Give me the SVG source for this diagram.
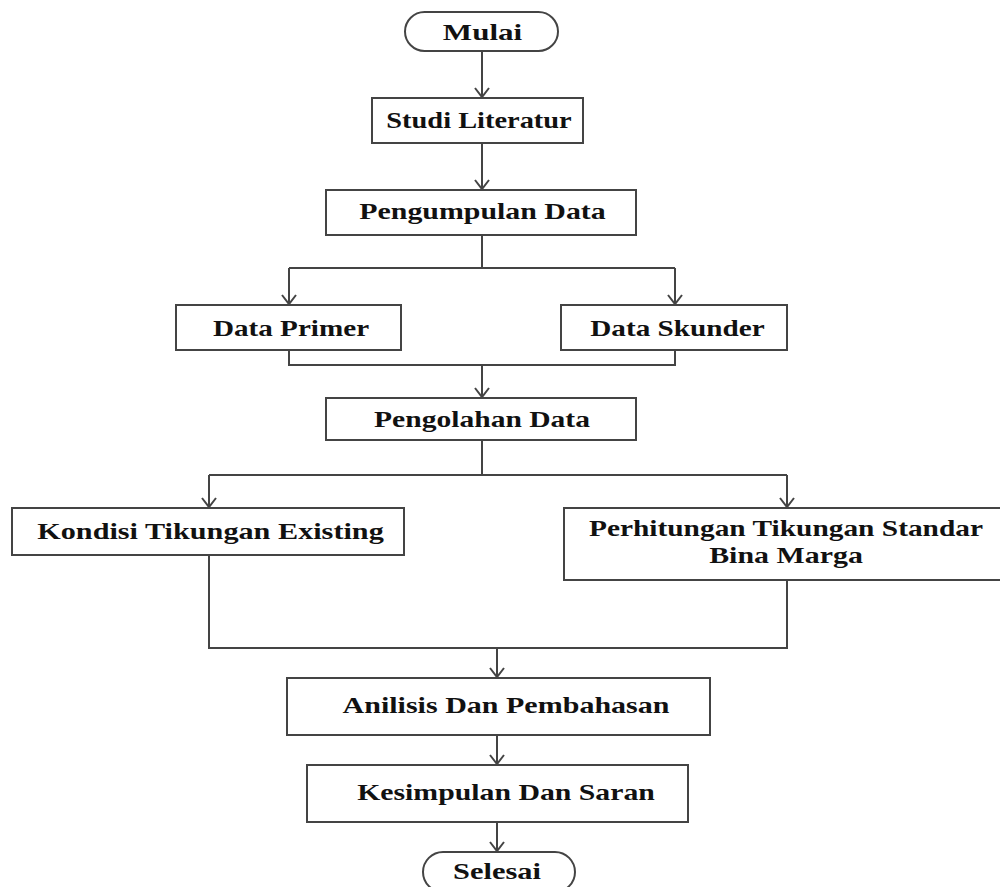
<svg xmlns="http://www.w3.org/2000/svg" width="1000" height="887" viewBox="0 0 1000 887">
<defs>
<style>
.box{fill:#fff;stroke:#444;stroke-width:2}
.t{font-family:"Liberation Serif","Times New Roman",serif;font-weight:bold;font-size:24px;fill:#111;text-anchor:middle}
.c{fill:none;stroke:#444;stroke-width:2}
</style>
<marker id="arr" viewBox="-10 -10 20 20" refX="0" refY="0" markerWidth="20" markerHeight="20" markerUnits="userSpaceOnUse" orient="auto">
<path d="M -9 -7 L 0 0 L -9 7" fill="none" stroke="#444" stroke-width="2"/>
</marker>
</defs>
<rect width="1000" height="887" fill="#fff"/>
<g id="connectors">
<path class="c" d="M482 51 V97" marker-end="url(#arr)"/>
<path class="c" d="M482 143 V189" marker-end="url(#arr)"/>
<path class="c" d="M482 235 V268"/>
<path class="c" d="M289 268 H675"/>
<path class="c" d="M289 268 V304" marker-end="url(#arr)"/>
<path class="c" d="M675 268 V304" marker-end="url(#arr)"/>
<path class="c" d="M289 350 V365 H675 V350"/>
<path class="c" d="M482 365 V397" marker-end="url(#arr)"/>
<path class="c" d="M482 440 V475"/>
<path class="c" d="M209 475 H787"/>
<path class="c" d="M209 475 V507" marker-end="url(#arr)"/>
<path class="c" d="M787 475 V507" marker-end="url(#arr)"/>
<path class="c" d="M209 555 V648 H787 V580"/>
<path class="c" d="M497 648 V677" marker-end="url(#arr)"/>
<path class="c" d="M497 735 V764" marker-end="url(#arr)"/>
<path class="c" d="M497 822 V851" marker-end="url(#arr)"/>
</g>
<g id="mulai">
<rect class="box" x="405" y="12" width="153" height="39" rx="19.5"/>
<g transform="translate(482.5,40) scale(1.22,1)"><text class="t" x="0" y="0" textLength="65" lengthAdjust="spacingAndGlyphs">Mulai</text></g>
</g>
<g id="studi">
<rect class="box" x="372" y="98" width="211" height="45"/>
<g transform="translate(479,128) scale(1.22,1)"><text class="t" x="0" y="0" textLength="152" lengthAdjust="spacingAndGlyphs">Studi Literatur</text></g>
</g>
<g id="pengumpulan">
<rect class="box" x="326" y="190" width="310" height="45"/>
<g transform="translate(482.5,219) scale(1.22,1)"><text class="t" x="0" y="0" textLength="202" lengthAdjust="spacingAndGlyphs">Pengumpulan Data</text></g>
</g>
<g id="primer">
<rect class="box" x="176" y="305" width="225" height="45"/>
<g transform="translate(291,336) scale(1.22,1)"><text class="t" x="0" y="0" textLength="128" lengthAdjust="spacingAndGlyphs">Data Primer</text></g>
</g>
<g id="skunder">
<rect class="box" x="561" y="305" width="226" height="45"/>
<g transform="translate(677.5,336) scale(1.22,1)"><text class="t" x="0" y="0" textLength="143" lengthAdjust="spacingAndGlyphs">Data Skunder</text></g>
</g>
<g id="pengolahan">
<rect class="box" x="326" y="398" width="310" height="42"/>
<g transform="translate(482,427) scale(1.22,1)"><text class="t" x="0" y="0" textLength="177" lengthAdjust="spacingAndGlyphs">Pengolahan Data</text></g>
</g>
<g id="kondisi">
<rect class="box" x="12" y="508" width="392" height="47"/>
<g transform="translate(210.5,539) scale(1.22,1)"><text class="t" x="0" y="0" textLength="284" lengthAdjust="spacingAndGlyphs">Kondisi Tikungan Existing</text></g>
</g>
<g id="perhitungan">
<rect class="box" x="564" y="508" width="442" height="72"/>
<g transform="translate(786,536) scale(1.22,1)"><text class="t" x="0" y="0" textLength="323" lengthAdjust="spacingAndGlyphs">Perhitungan Tikungan Standar</text></g>
<g transform="translate(786,563) scale(1.22,1)"><text class="t" x="0" y="0" textLength="126" lengthAdjust="spacingAndGlyphs">Bina Marga</text></g>
</g>
<g id="analisis">
<rect class="box" x="287" y="678" width="423" height="57"/>
<g transform="translate(506,713) scale(1.22,1)"><text class="t" x="0" y="0" textLength="268" lengthAdjust="spacingAndGlyphs">Anilisis Dan Pembahasan</text></g>
</g>
<g id="kesimpulan">
<rect class="box" x="307" y="765" width="381" height="57"/>
<g transform="translate(506,800) scale(1.22,1)"><text class="t" x="0" y="0" textLength="244" lengthAdjust="spacingAndGlyphs">Kesimpulan Dan Saran</text></g>
</g>
<g id="selesai">
<rect class="box" x="423" y="852" width="152" height="40" rx="20"/>
<g transform="translate(497,879) scale(1.22,1)"><text class="t" x="0" y="0" textLength="72" lengthAdjust="spacingAndGlyphs">Selesai</text></g>
</g>
</svg>
